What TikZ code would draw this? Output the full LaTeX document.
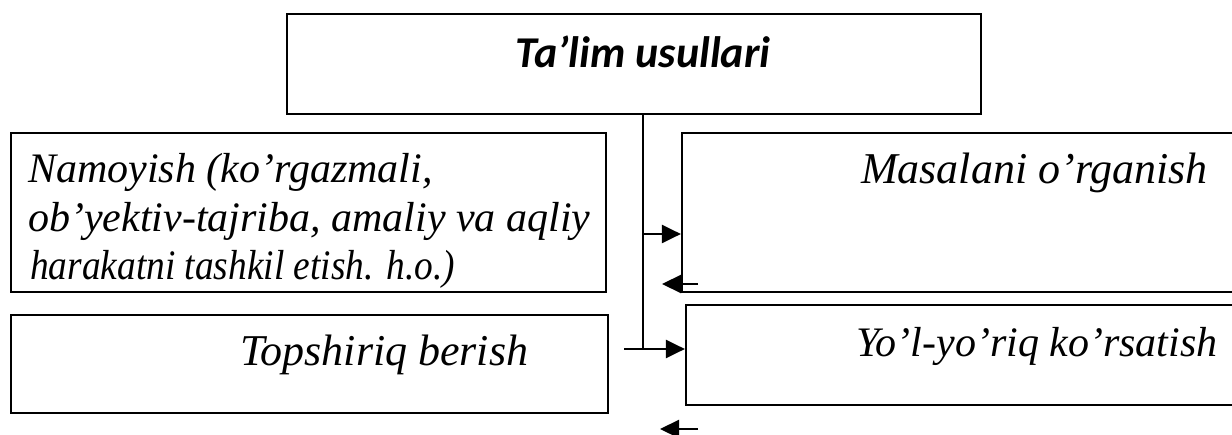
\documentclass[tikz,border=0pt]{standalone}
\usepackage{fontspec}
\usepackage{graphicx}
\setmainfont{Liberation Serif}
\newfontfamily\headfont{Carlito}
\usetikzlibrary{arrows.meta}

\begin{document}
\begin{tikzpicture}[x=1pt,y=-1pt,
  boxstyle/.style={draw=black,line width=2.2pt,rectangle,inner sep=0pt},
  boxtext/.style={inner sep=0pt,anchor=base west,font=\fontsize{42}{48}\selectfont\itshape},
  headtext/.style={inner sep=0pt,anchor=base,font=\headfont\fontsize{44}{50}\selectfont\bfseries\itshape},
  wire/.style={line width=2.2pt},
  arrowline/.style={line width=2.2pt,-{Triangle[length=19pt,width=18pt]}}]
\useasboundingbox (0,0) rectangle (1232,435);
\clip (0,0) rectangle (1232,435);

% boxes
\node[boxstyle,minimum width=694pt,minimum height=100pt] (top) at (634,64) {};
\node[boxstyle,minimum width=595pt,minimum height=159pt] (left1) at (308.5,212.5) {};
\node[boxstyle,minimum width=597pt,minimum height=98pt] (left2) at (309.5,364) {};
\node[boxstyle,minimum width=600pt,minimum height=159pt] (right1) at (982,212.5) {};
\node[boxstyle,minimum width=600pt,minimum height=100pt] (right2) at (986,355) {};

% texts
\node[headtext] (toptxt) at (643,68) {Ta’lim usullari};
\node[boxtext] (l1a) at (28,183) {Namoyish (ko’rgazmali,};
\node[boxtext] (l1b) at (28,232) {ob’yektiv-tajriba, amaliy va aqliy};
\node[boxtext] (l1c) at (30,280) {\scalebox{0.89}[1]{harakatni tashkil etish. h.o.)}};
\node[boxtext,font=\fontsize{44}{50}\selectfont\itshape] (l2) at (240,366) {Topshiriq berish};
\node[boxtext,font=\fontsize{44}{50}\selectfont\itshape] (r1) at (861,184) {Masalani o’rganish};
\node[boxtext] (r2) at (856,357) {Yo’l-yo’riq ko’rsatish};

% connectors
\coordinate (trunkend) at (643,349);
\coordinate (j1) at (643,234);
\coordinate (j2start) at (624,349);
\draw[wire] (top.south -| trunkend) -- (trunkend);
\draw[arrowline] (j1) -- (right1.west |- j1);
\draw[arrowline] (j2start) -- (right2.west |- j2start);

% return arrows
\coordinate (b1s) at (698,284);
\coordinate (b1e) at (662,284);
\coordinate (b2s) at (698,429);
\coordinate (b2e) at (660,429);
\draw[arrowline] (b1s) -- (b1e);
\draw[arrowline] (b2s) -- (b2e);
\end{tikzpicture}
\end{document}
